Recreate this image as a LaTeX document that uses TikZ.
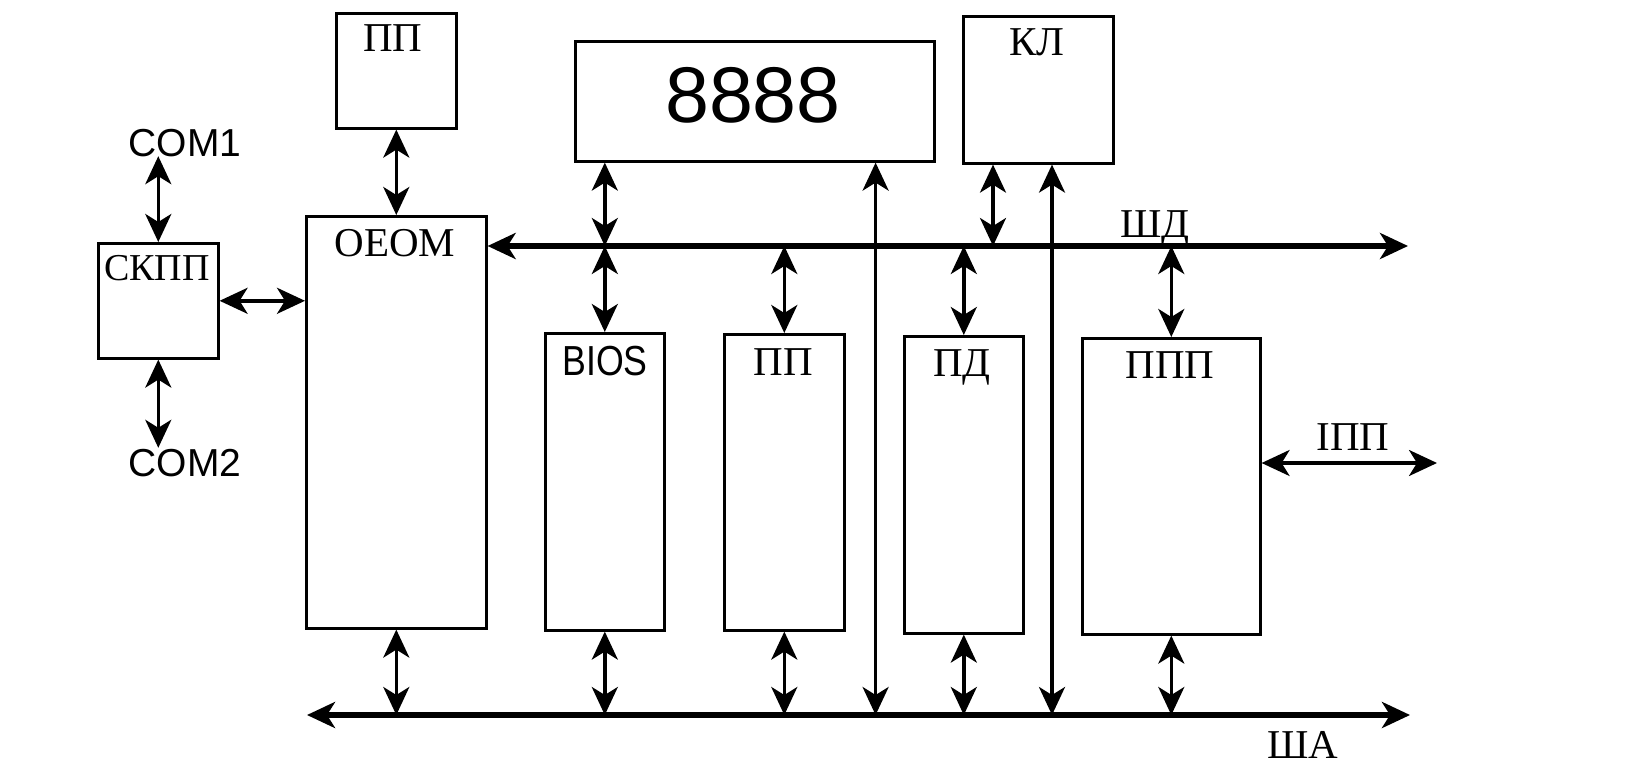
\documentclass[tikz,border=0pt]{standalone}
\usepackage{fontspec}
\setmainfont{Liberation Serif}
\newfontfamily\arialf{Liberation Sans}
\newfontfamily\arialn{Liberation Sans}[FakeStretch=0.85]
\usetikzlibrary{arrows.meta}
\begin{document}
\begin{tikzpicture}[x=1pt,y=-1pt,
  blk/.style={draw, line width=2.6pt, inner sep=0pt, anchor=north west},
  ser/.style={font=\fontsize{41}{41}\selectfont, inner sep=0pt, text height=27pt, text depth=0pt},
  san/.style={font=\arialf\fontsize{39}{39}\selectfont, inner sep=0pt, text height=28pt, text depth=0pt},
  hd/.tip={Stealth[length=28pt,width=26pt,inset=8pt]},
  dbl/.style={line width=3.4pt, hd-hd},
  bus/.style={line width=5.4pt, hd-hd},
  lng/.style={line width=3.6pt, hd-hd}
]
\useasboundingbox[fill=white] (0,0) rectangle (1635,784);

% boxes
\node[blk, minimum width=120pt, minimum height=115pt] (ppT) at (335,12) {};
\node[blk, minimum width=359pt, minimum height=120pt] (disp) at (574,40) {};
\node[blk, minimum width=150pt, minimum height=147pt] (kl) at (962,15) {};
\node[blk, minimum width=120pt, minimum height=115pt] (skpp) at (97,242) {};
\node[blk, minimum width=180pt, minimum height=412pt] (oeom) at (305,215) {};
\node[blk, minimum width=119pt, minimum height=297pt] (bios) at (544,332) {};
\node[blk, minimum width=120pt, minimum height=296pt] (ppM) at (723,333) {};
\node[blk, minimum width=119pt, minimum height=297pt] (pd) at (903,335) {};
\node[blk, minimum width=178pt, minimum height=296pt] (ppp) at (1081,337) {};

% texts
\node[ser] (tppT) at (393,38) {ПП};
\node[inner sep=0pt, font=\arialf\fontsize{79}{79}\selectfont, text height=57pt, text depth=0pt] (t8888) at (753,94) {8888};
\node[ser] (tkl) at (1037,42) {КЛ};
\node[ser, font=\fontsize{38}{38}\selectfont] (tskpp) at (157,267) {СКПП};
\node[ser] (toeom) at (395,243) {ОЕОМ};
\node[san] (com1) at (185,142) {COM1};
\node[san] (com2) at (185,462) {COM2};
\node[inner sep=0pt, font=\arialn\fontsize{42}{42}\selectfont, text height=30pt, text depth=0pt] (tbios) at (605,360) {BIOS};
\node[ser] (tppM) at (783,362) {ПП};
\node[ser] (tpd) at (962,363) {ПД};
\node[ser] (tppp) at (1170,365) {ППП};
\node[ser] (tshd) at (1155,224) {ШД};
\node[ser] (tipp) at (1353,437) {ІПП};
\node[ser] (tsha) at (1303,745) {ША};

% bus end points
\coordinate (shdR) at (1408,246);
\coordinate (shaL) at (307,715);
\coordinate (shaR) at (1410,715);
\coordinate (ippR) at (1437,463);

% buses
\draw[bus] (oeom.east |- shdR) -- (shdR);
\draw[bus] (shaL) -- (shaR);

% left side
\draw[dbl] (skpp.north |- com1.south) -- (skpp.north);
\draw[dbl] (skpp.south) -- (skpp.south |- com2.north);
\draw[dbl] (skpp.east) -- (skpp.east -| oeom.west);
\draw[dbl] (ppT.south) -- (ppT.south |- oeom.north);

% data bus links
\draw[dbl] (bios.north |- disp.south) -- (bios.north |- shdR);
\draw[dbl] (bios.north |- shdR) -- (bios.north);
\draw[dbl] (ppM.north |- shdR) -- (ppM.north);
\draw[dbl] (pd.north |- shdR) -- (pd.north);
\draw[dbl] ([xshift=31pt]kl.south west) -- ([xshift=31pt]kl.south west |- shdR);
\draw[dbl] (ppp.north |- shdR) -- (ppp.north);

% long lines to address bus
\draw[lng] ([xshift=-60pt]disp.south east) -- ([xshift=-60pt]disp.south east |- shaR);
\draw[lng] ([xshift=90pt]kl.south west) -- ([xshift=90pt]kl.south west |- shaR);

% address bus links
\draw[dbl] (oeom.south) -- (oeom.south |- shaR);
\draw[dbl] (bios.south) -- (bios.south |- shaR);
\draw[dbl] (ppM.south) -- (ppM.south |- shaR);
\draw[dbl] (pd.south) -- (pd.south |- shaR);
\draw[dbl] (ppp.south) -- (ppp.south |- shaR);

% external port
\draw[dbl] (ippR -| ppp.east) -- (ippR);
\end{tikzpicture}
\end{document}
